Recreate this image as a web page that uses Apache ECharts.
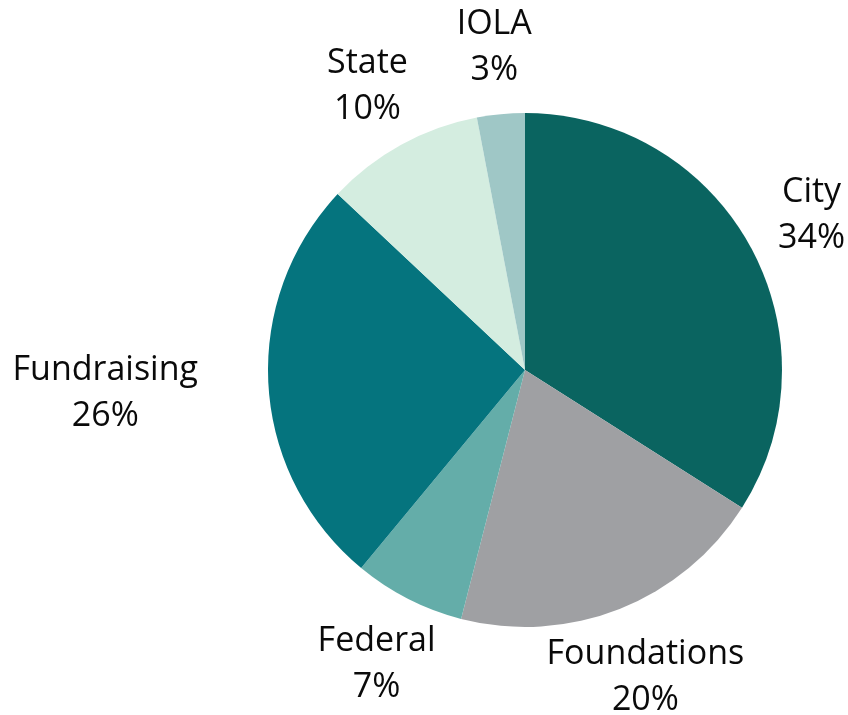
<!DOCTYPE html>
<html>
<head>
<meta charset="utf-8">
<style>
  html, body { margin: 0; padding: 0; background: #fff; }
  #chart { width: 848px; height: 715px; }
</style>
<script src="https://cdn.jsdelivr.net/npm/echarts@6/dist/echarts.min.js"></script>
</head>
<body>
<div id="chart"></div>
<script>
const categories = ['City', 'Foundations', 'Federal', 'Fundraising', 'State', 'IOLA']
const values = [34, 20, 7, 26, 10, 3]
const colors = ['#0a6460', '#9fa0a3', '#64ada9', '#05747e', '#d4ede0', '#9fc7c6']

const CX = 525, CY = 370, R = 257, LABEL_GAP = 70

// mid angle of each slice, clockwise from 12 o'clock
const total = values.reduce((a, b) => a + b, 0)
let acc = 0
const midAngles = values.map(v => {
  const m = (acc + v / 2) / total * Math.PI * 2
  acc += v
  return m
})

const chart = echarts.init(document.getElementById('chart'), null, { renderer: 'canvas' })

chart.setOption({
  animation: false,
  backgroundColor: '#fff',
  series: [{
    type: 'pie',
    center: [CX, CY],
    radius: [0, R],
    startAngle: 90,
    clockwise: true,
    data: categories.map((c, i) => ({ name: c, value: values[i], itemStyle: { color: colors[i] } })),
    label: {
      show: true,
      position: 'outside',
      formatter: p => p.name + '\n' + p.value + '%',
      fontFamily: 'Open Sans',
      fontSize: 34,
      lineHeight: 46,
      color: '#0a0a0a',
      align: 'center',
      overflow: 'none',
      edgeDistance: 0
    },
    labelLine: { show: false },
    emphasis: { disabled: true },
    labelLayout: params => {
      const a = midAngles[params.dataIndex]
      const d = R + LABEL_GAP
      let x = Math.sin(a) * d
      const y = -Math.cos(a) * d + 3
      const w = params.labelRect.width, h = params.labelRect.height
      // push label sideways if its box would sit on the pie
      const nx = Math.max(Math.abs(x) - w / 2, 0)
      const ny = Math.max(Math.abs(y) - h / 2, 0)
      if (Math.hypot(nx, ny) < R) {
        const s = x < 0 ? -1 : 1
        x = s * (d + w / 2)
      }
      return { x: CX + x, y: CY + y, align: 'center', verticalAlign: 'middle' }
    }
  }]
})
</script>
</body>
</html>
